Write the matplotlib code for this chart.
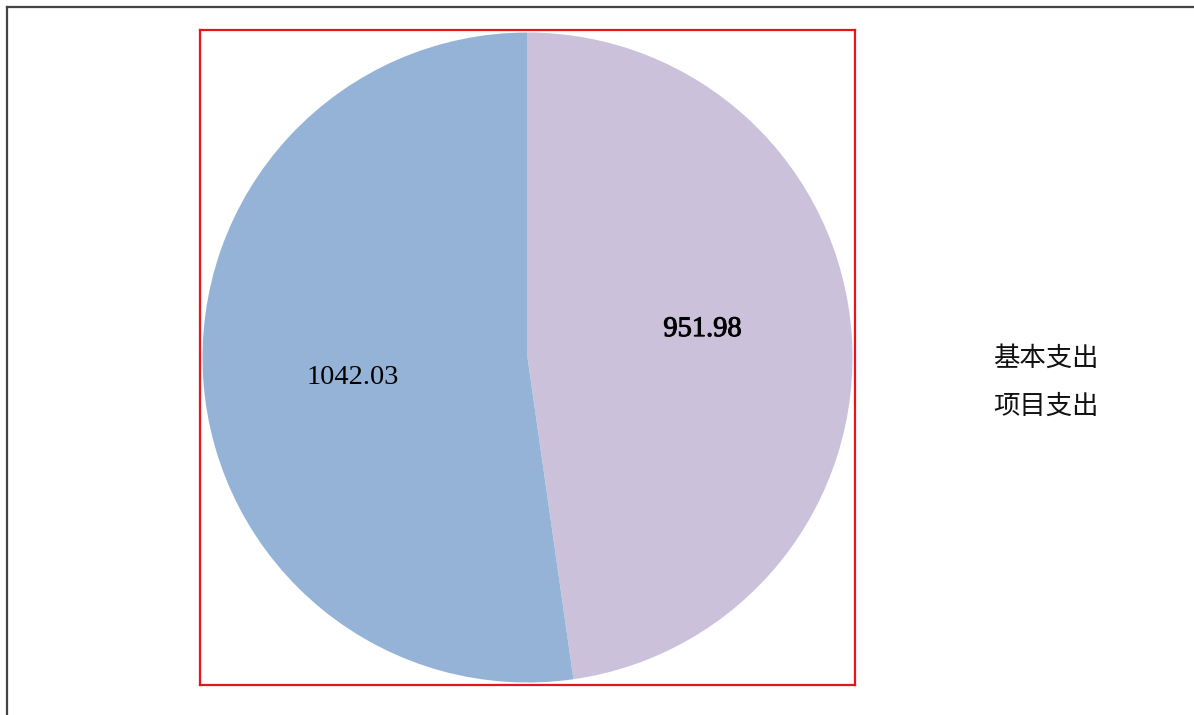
import matplotlib
matplotlib.use('Agg')
import matplotlib.pyplot as plt
import matplotlib.patheffects as pe
import numpy as np

# 데이터
values = [951.98, 1042.03]
value_labels = ['951.98', '1042.03']
legend_labels = ['基本支出', '项目支出']
colors = ['#CCC1DA', '#95B3D7']

W, H = 1194, 715
fig = plt.figure(figsize=(W / 100, H / 100), dpi=100)

# 바깥 테두리 (위, 왼쪽)
fig.add_artist(plt.Line2D([7 / W, 1], [1 - 7 / H, 1 - 7 / H], color='#444444', lw=1.6))
fig.add_artist(plt.Line2D([7 / W, 7 / W], [0, 1 - 7 / H], color='#444444', lw=1.6))

# 파이 영역 (빨간 테두리)
ax = fig.add_axes([200 / W, (H - 685) / H, 655 / W, 655 / H])
wedges, _ = ax.pie(values, colors=colors, startangle=90, counterclock=False,
                   radius=1.0, wedgeprops=dict(linewidth=0))
lim = 327.5 / 325
ax.set_xlim(-lim, lim)
ax.set_ylim(-lim, lim)
ax.set_aspect('auto')
ax.set_frame_on(True)
ax.set_xticks([])
ax.set_yticks([])
for s in ax.spines.values():
    s.set_visible(True)
    s.set_color('#E8141C')
    s.set_linewidth(1.6)

# 값 라벨
label_pos = [(0.545, 5.0), (0.54, 2.5)]  # (반지름 비율, 각도 보정)
strokes = [0.7, 0.0]
for w, txt, (r, da), sw in zip(wedges, value_labels, label_pos, strokes):
    ang = np.deg2rad((w.theta1 + w.theta2) / 2 + da)
    t = ax.text(r * np.cos(ang), r * np.sin(ang), txt,
                ha='center', va='center', fontsize=20.5,
                family=['Liberation Serif', 'DejaVu Serif'], color='black')
    if sw:
        t.set_path_effects([pe.withStroke(linewidth=sw, foreground='black')])

# 범례 (표식 없음)
for i, lab in enumerate(legend_labels):
    fig.text(993 / W, 1 - (358 + 48 * i) / H, lab, ha='left', va='center',
             fontsize=19, family=['Noto Sans CJK SC', 'DejaVu Sans'], color='#111111')

fig.savefig('out.png', dpi=100)
